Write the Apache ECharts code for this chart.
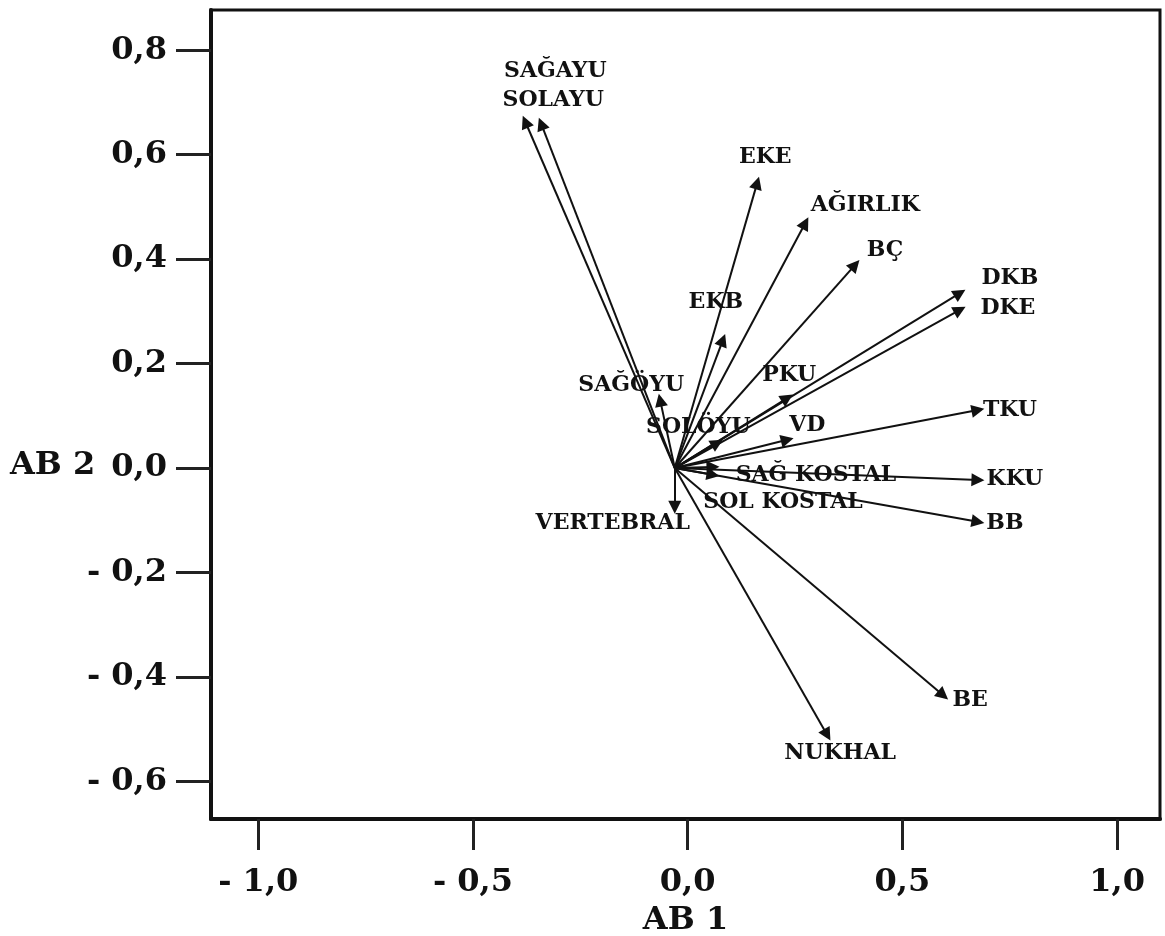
<!DOCTYPE html>
<html>
<head>
<meta charset="utf-8">
<script src="https://cdn.jsdelivr.net/npm/echarts@6/dist/echarts.min.js"></script>
<style>
  html, body { margin: 0; padding: 0; background: #fff; }
  #chart { width: 1165px; height: 936px; }
</style>
</head>
<body>
<div id="chart"></div>
<script>
// loadings
var origin = [-0.03, 0.0]
var names = ['SAĞAYU', 'SOLAYU', 'EKE', 'AĞIRLIK', 'BÇ', 'DKB', 'DKE', 'TKU', 'KKU', 'BB',
  'BE', 'NUKHAL', 'EKB', 'PKU', 'VD', 'SOLÖYU', 'SAĞÖYU', 'SAĞ KOSTAL', 'SOL KOSTAL', 'VERTEBRAL']
var ab1 = [-0.378, -0.341, 0.162, 0.274, 0.390, 0.634, 0.634, 0.676, 0.676, 0.676,
  0.595, 0.325, 0.082, 0.232, 0.232, 0.069, -0.064, 0.059, 0.059, -0.03]
var ab2 = [0.663, 0.659, 0.546, 0.469, 0.389, 0.335, 0.303, 0.111, -0.023, -0.103,
  -0.435, -0.511, 0.245, 0.134, 0.054, 0.048, 0.130, 0.002, -0.013, -0.075]

var xTicks = [-1, -0.5, 0, 0.5, 1]
var xTickLabels = ['- 1,0', '- 0,5', '0,0', '0,5', '1,0']
var yTicks = [-0.6, -0.4, -0.2, 0, 0.2, 0.4, 0.6, 0.8]
var yTickLabels = ['- 0,6', '- 0,4', '- 0,2', '0,0', '0,2', '0,4', '0,6', '0,8']

// where each name sits relative to its arrow tip (px)
var labelOffsets = {
  'SAĞAYU': [30, -50], 'SOLAYU': [12, -24], 'EKE': [8, -26], 'AĞIRLIK': [60, -18],
  'BÇ': [30, -15], 'DKB': [50, -15], 'DKE': [48, -2], 'TKU': [32, 0], 'KKU': [37, -1],
  'BB': [27, 1], 'BE': [27, 5], 'NUKHAL': [13, 18], 'EKB': [-7, -38], 'PKU': [2, -23],
  'VD': [20, -15], 'SOLÖYU': [-19, -16], 'SAĞÖYU': [-29, -15], 'SAĞ KOSTAL': [103, 8],
  'SOL KOSTAL': [70, 27], 'VERTEBRAL': [-62, 16]
}

var serif = '"DejaVu Serif", "Liberation Serif", serif'

var arrows = names.map(function (n, i) {
  return { name: n, coords: [origin, [ab1[i], ab2[i]]] }
})
var tips = names.map(function (n, i) {
  return {
    name: n,
    value: [ab1[i], ab2[i]],
    label: { offset: labelOffsets[n] },
  }
})

var chart = echarts.init(document.getElementById('chart'))

var option = {
  backgroundColor: '#fff',
  animation: false,
  grid: {
    left: 211,
    top: 10,
    right: 5,
    bottom: 117,
    outerBoundsMode: 'none',
    show: true,
    borderColor: '#111',
    borderWidth: 3,
  },
  xAxis: {
    type: 'value',
    min: -1.11,
    max: 1.10,
    name: 'AB 1',
    nameLocation: 'middle',
    nameGap: 86,
    nameTextStyle: { fontFamily: serif, fontWeight: 'bold', fontSize: 32, color: '#111' },
    axisLine: { onZero: false, lineStyle: { color: '#111', width: 4 } },
    axisTick: {
      customValues: xTicks,
      length: 31,
      lineStyle: { color: '#222', width: 3 },
    },
    axisLabel: {
      customValues: xTicks,
      margin: 48,
      fontFamily: serif,
      fontWeight: 'bold',
      fontSize: 32,
      color: '#111',
      formatter: function (v) {
        return xTickLabels[xTicks.indexOf(v)]
      },
    },
    splitLine: { show: false },
  },
  yAxis: {
    type: 'value',
    min: -0.672,
    max: 0.877,
    axisLine: { onZero: false, lineStyle: { color: '#111', width: 4 } },
    axisTick: {
      customValues: yTicks,
      length: 35,
      lineStyle: { color: '#222', width: 3 },
    },
    axisLabel: {
      customValues: yTicks,
      margin: 44,
      fontFamily: serif,
      fontWeight: 'bold',
      fontSize: 32,
      color: '#111',
      formatter: function (v) {
        return yTickLabels[yTicks.indexOf(v)]
      },
    },
    splitLine: { show: false },
  },
  graphic: [
    {
      type: 'text',
      left: 10,
      top: 450,
      style: {
        text: 'AB 2',
        font: 'bold 32px ' + serif,
        fill: '#111',
      },
    },
  ],
  series: [
    {
      type: 'lines',
      coordinateSystem: 'cartesian2d',
      data: arrows,
      symbol: ['none', 'triangle'],
      symbolSize: 13,
      lineStyle: { color: '#111', width: 2, opacity: 1 },
      silent: true,
      z: 3,
    },
    {
      type: 'scatter',
      data: tips,
      symbolSize: 0,
      itemStyle: { color: '#111', opacity: 1 },
      label: {
        show: true,
        position: 'inside',
        formatter: '{b}',
        fontFamily: serif,
        fontWeight: 'bold',
        fontSize: 22,
        color: '#111',
        opacity: 1,
        textBorderWidth: 0,
      },
      silent: true,
      z: 4,
    },
  ],
}

chart.setOption(option)
</script>
</body>
</html>
